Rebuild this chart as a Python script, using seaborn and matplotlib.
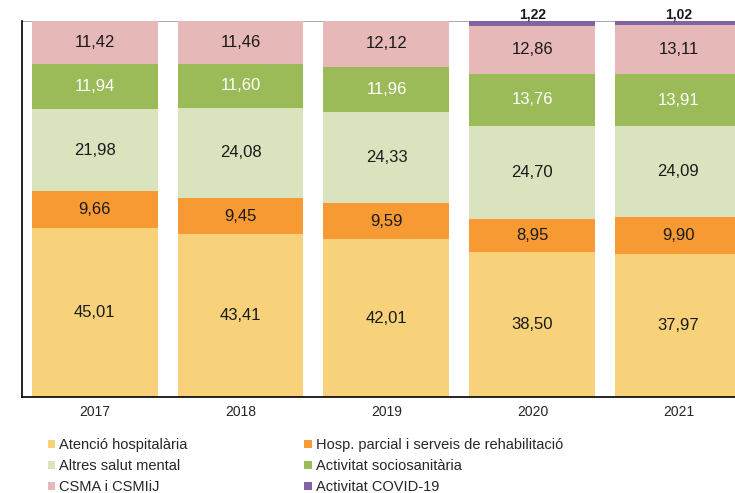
import numpy as np
import pandas as pd
import seaborn as sb
import matplotlib.pyplot as plt
from matplotlib.patches import Patch

## data ##
years = ['2017', '2018', '2019', '2020', '2021']
series_names = ['Atenció hospitalària', 'Hosp. parcial i serveis de rehabilitació',
                'Altres salut mental', 'Activitat sociosanitària',
                'CSMA i CSMIiJ', 'Activitat COVID-19']
atencio_hosp = [45.01, 43.41, 42.01, 38.50, 37.97]
hosp_parcial = [9.66, 9.45, 9.59, 8.95, 9.90]
altres_salut = [21.98, 24.08, 24.33, 24.70, 24.09]
sociosanitaria = [11.94, 11.60, 11.96, 13.76, 13.91]
csma = [11.42, 11.46, 12.12, 12.86, 13.11]
covid = [0, 0, 0, 1.22, 1.02]

colors = ['#F8D27A', '#F89A34', '#D9E4BF', '#9BBB59', '#E6B8B7', '#8064A2']
text_colors = ['#1a1a1a', '#1a1a1a', '#1a1a1a', 'white', '#1a1a1a', '#1a1a1a']

sb.set_style('white')
plt.rcParams['font.family'] = ['Liberation Sans', 'DejaVu Sans']

df = pd.DataFrame({'year': years, 'a': atencio_hosp, 'b': hosp_parcial, 'c': altres_salut,
                   'd': sociosanitaria, 'e': csma, 'f': covid})
cols = ['a', 'b', 'c', 'd', 'e', 'f']
cum = df[cols].cumsum(axis=1)

fig = plt.figure(figsize=(7.35, 4.93), dpi=100)
ax = fig.add_axes([0.0293, 0.1947, 0.993, 0.7627])

ax.axhline(100, color='#999999', lw=1.2, zorder=0)

## draw tallest cumulative first so lower layers overlay ##
for i in reversed(range(len(cols))):
    sb.barplot(x=df['year'], y=cum[cols[i]], color=colors[i], saturation=1,
               width=0.863, ax=ax, zorder=2, edgecolor='none', linewidth=0)

## labels ##
for j in range(len(years)):
    for i in range(5):
        top = cum[cols[i]][j]
        val = df[cols[i]][j]
        ax.text(j, top - val / 2, f'{val:.2f}'.replace('.', ','), ha='center', va='center',
                fontsize=12, color=text_colors[i], zorder=5)
    if covid[j] > 0:
        ax.text(j, 99.8, f'{covid[j]:.2f}'.replace('.', ','), ha='center', va='bottom',
                fontsize=10, fontweight='bold', color='#1a1a1a', zorder=5)

ax.set_ylim(0, 100)
ax.set_xlim(-0.5, 4.5)
ax.set_yticks(np.arange(0, 101, 10))
ax.set_yticklabels([])
ax.set_xticks(np.arange(-0.5, 5, 1))
ax.set_xticklabels([])
ax.set_xticks(range(5), minor=True)
ax.set_xticklabels(years, minor=True, fontsize=10)
ax.tick_params(axis='x', which='minor', length=0, pad=6)
ax.tick_params(axis='x', which='major', direction='out', length=4, width=1, color='black')
ax.tick_params(axis='y', direction='out', length=4, width=1, color='black')
ax.set_xlabel('')
ax.set_ylabel('')
for s in ['top', 'right']:
    ax.spines[s].set_visible(False)
for s in ['left', 'bottom']:
    ax.spines[s].set_color('black')
    ax.spines[s].set_linewidth(1.2)

## legend filled row by row ##
order = [0, 2, 4, 1, 3, 5]
handles = [Patch(facecolor=colors[k], edgecolor='none') for k in order]
labels = [series_names[k] for k in order]
leg = fig.legend(handles, labels, loc='upper left', bbox_to_anchor=(0.057, 0.123),
                 ncol=2, frameon=False, prop={'size': 10.5},
                 handlelength=0.5, handleheight=0.5,
                 handletextpad=0.3, columnspacing=8.0, labelspacing=0.48, borderaxespad=0)

fig.savefig('out.png', dpi=100)
